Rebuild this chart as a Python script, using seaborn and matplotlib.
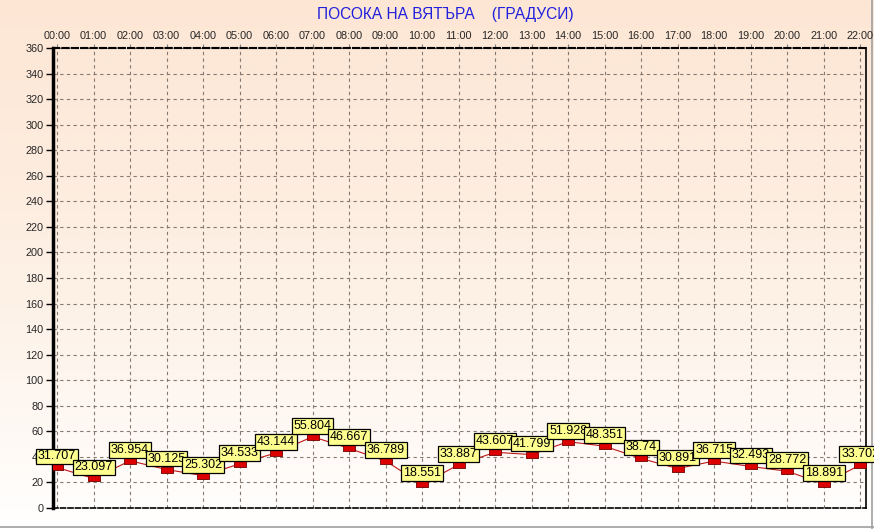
import numpy as np
import pandas as pd
import matplotlib
matplotlib.use("Agg")
import matplotlib.pyplot as plt
import seaborn as sns
from matplotlib.colors import LinearSegmentedColormap

hours = ["00:00", "01:00", "02:00", "03:00", "04:00", "05:00", "06:00", "07:00",
         "08:00", "09:00", "10:00", "11:00", "12:00", "13:00", "14:00", "15:00",
         "16:00", "17:00", "18:00", "19:00", "20:00", "21:00", "22:00"]
values = [31.707, 23.097, 36.954, 30.125, 25.302, 34.533, 43.144, 55.804,
          46.667, 36.789, 18.551, 33.887, 43.607, 41.799, 51.928, 48.351,
          38.74, 30.891, 36.715, 32.493, 28.772, 18.891, 33.702]
y_ticks = list(range(0, 361, 20))
title = "ПОСОКА НА ВЯТЪРА    (ГРАДУСИ)"

df = pd.DataFrame({"pos": range(len(hours)), "value": values})

sns.set_style("white")
plt.rcParams["font.family"] = ["Liberation Sans", "DejaVu Sans"]

W, H = 874, 529
fig = plt.figure(figsize=(W / 100, H / 100), dpi=100)

# background gradient (peach at top -> white at bottom)
bg = fig.add_axes([0, 0, 1, 1], zorder=-10)
cmap = LinearSegmentedColormap.from_list(
    "bg", [(0, "#fde6d4"), (0.55, "#fdf1e6"), (0.85, "#fffaf6"), (1, "#ffffff")])
grad = np.linspace(0, 1, 256).reshape(-1, 1)
bg.imshow(grad, cmap=cmap, aspect="auto", extent=[0, 1, 0, 1])
bg.axhline(1 - 527 / H, color="#a0a0a0", lw=1.2)
bg.axvline(872 / W, color="#a0a0a0", lw=1.2)
bg.set_xlim(0, 1)
bg.set_ylim(0, 1)
bg.axis("off")

ax = fig.add_axes([53 / W, (H - 508) / H, (866 - 53) / W, (508 - 48) / H])
ax.set_facecolor("none")

sns.lineplot(data=df, x="pos", y="value", ax=ax, color="#c01818", lw=0.8, zorder=3)
rect = [(-1, -0.5), (1, -0.5), (1, 0.5), (-1, 0.5), (-1, -0.5)]
sns.scatterplot(data=df, x="pos", y="value", ax=ax, marker=rect, s=65,
                color="#dd0000", edgecolor="#700000", linewidth=0.6, zorder=4)

for x, v in zip(df["pos"], df["value"]):
    ax.annotate(f"{v:g}", (x, v), xytext=(0, 5), textcoords="offset pixels",
                ha="center", va="bottom", fontsize=9, color="black", zorder=6,
                bbox=dict(boxstyle="square,pad=0.15", fc="#ffff90", ec="black", lw=0.9))

ax.set_xlim(-0.11, 22.16)
ax.set_ylim(0, 360)
ax.set_xticks(range(len(hours)))
ax.set_xticklabels(hours)
ax.set_yticks(y_ticks)
ax.xaxis.tick_top()
ax.tick_params(axis="x", top=True, length=3, color="#808080", labelsize=7.8, pad=2)
ax.tick_params(axis="y", left=True, length=5, width=1, color="black",
               labelsize=7.8, pad=2)
ax.set_xlabel("")
ax.set_ylabel("")

ax.grid(True, color="#857a72", linestyle=(0, (3, 3)), lw=0.8)
ax.set_axisbelow(True)

ax.spines["left"].set_linewidth(2.5)
ax.spines["left"].set_color("black")
ax.spines["right"].set_linewidth(1.2)
ax.spines["right"].set_color("black")
ax.spines["top"].set_linewidth(1.5)
ax.spines["top"].set_linestyle((0, (3, 1.5)))
ax.spines["top"].set_color("black")
ax.spines["bottom"].set_linewidth(1.2)
ax.spines["bottom"].set_linestyle((0, (3, 1.5)))
ax.spines["bottom"].set_color("black")

fig.text(445 / W, 1 - 15 / H, title, ha="center", va="center",
         fontsize=11.2, color="#2020dd")

fig.savefig("out.png", dpi=100)
